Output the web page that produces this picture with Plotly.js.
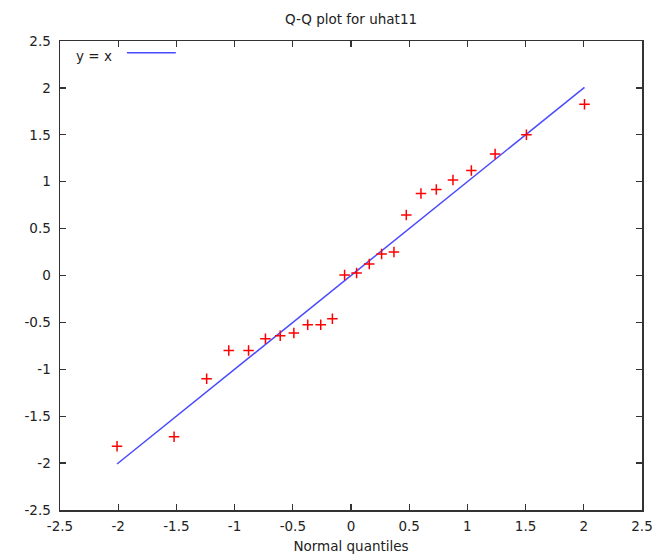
<!DOCTYPE html>
<html>
<head>
<meta charset="utf-8">
<script src="https://cdn.plot.ly/plotly-3.0.1.min.js"></script>
<style>html,body{margin:0;padding:0;background:#fff;}#chart{width:658px;height:556px;}</style>
</head>
<body>
<div id="chart"></div>
<script>
const normalQuantiles = [-2.01, -1.52, -1.24, -1.05, -0.88, -0.735, -0.608, -0.491, -0.372, -0.26, -0.16, -0.055,
  0.048, 0.157, 0.263, 0.369, 0.475, 0.601, 0.733, 0.876, 1.034, 1.238, 1.507, 2.006];
const residuals = [-1.82, -1.72, -1.10, -0.80, -0.80, -0.675, -0.641, -0.612, -0.524, -0.524, -0.46, 0.005,
  0.027, 0.122, 0.229, 0.25, 0.644, 0.875, 0.918, 1.017, 1.12, 1.294, 1.50, 1.826];
const refLineX = [-2.01, 2.006];
const refLineY = refLineX.slice();
const axisTicks = [-2.5, -2, -1.5, -1, -0.5, 0, 0.5, 1, 1.5, 2, 2.5];

const font = {family: 'DejaVu Sans, Verdana, sans-serif', size: 13.5, color: '#222'};
const axisCommon = {
  range: [-2.5, 2.5], tickvals: axisTicks, ticktext: axisTicks.map(String),
  ticks: 'inside', ticklen: 6, tickwidth: 1.3, tickcolor: '#333',
  showline: true, linecolor: '#333', linewidth: 1.5, mirror: 'allticks',
  showgrid: false, zeroline: false, tickfont: font
};

const traces = [
  {x: refLineX, y: refLineY, mode: 'lines', name: 'y = x',
   line: {color: '#4a4aff', width: 1.5}, showlegend: false, hoverinfo: 'skip'},
  {x: normalQuantiles, y: residuals, mode: 'markers', name: 'uhat11',
   marker: {symbol: 'cross-thin', size: 7.5, color: 'red', line: {color: 'red', width: 1.5}},
   showlegend: false}
];

const layout = {
  width: 658, height: 556,
  margin: {l: 60, r: 16, t: 41, b: 46},
  paper_bgcolor: '#fff', plot_bgcolor: '#fff',
  font: font,
  title: {text: 'Q-Q plot for uhat11', font: {family: font.family, size: 13.5, color: '#222'},
          xref: 'paper', x: 0.5, xanchor: 'center', y: 0.966, yanchor: 'middle'},
  xaxis: Object.assign({}, axisCommon, {
    title: {text: 'Normal quantiles', font: font, standoff: 9},
    ticklabelstandoff: 3
  }),
  yaxis: Object.assign({}, axisCommon, {ticklabelstandoff: 5}),
  annotations: [{
    xref: 'paper', yref: 'paper', x: 0.024, y: 0.967, xanchor: 'left', yanchor: 'middle',
    text: 'y = x', showarrow: false, font: font
  }],
  shapes: [{
    type: 'line', xref: 'paper', yref: 'paper', x0: 0.115, x1: 0.199, y0: 0.975, y1: 0.975,
    line: {color: '#4a4aff', width: 1.5}
  }]
};

Plotly.newPlot('chart', traces, layout, {displayModeBar: false, staticPlot: true});
</script>
</body>
</html>
